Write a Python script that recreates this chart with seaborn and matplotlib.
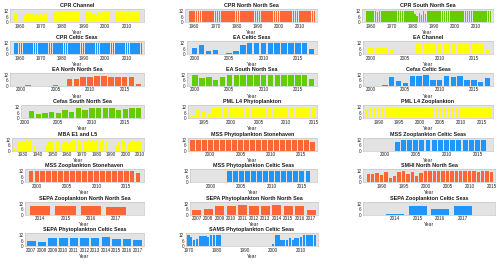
import numpy as np
import pandas as pd
import matplotlib
matplotlib.use("Agg")
import matplotlib.pyplot as plt
import seaborn as sns

# ==========================================
# 1. DATA (months sampled per year)
# ==========================================

cpr_years = list(range(1958, 2018))
cpr_channel = [10, 9,
               8, 9, 8, 10, 10, 9, 9, 8, 9, 8,
               9, 8, 10, 10, 11, 11, 12, 11, 12, 12,
               12, 12, 11, 12, 12, 11, 11, 12, 12, 11,
               12, 11, 11, 11, 10, 9, 8, 11, 10, 11,
               11, 11, 11, 11, 11, 12, 11, 11, 12, 11,
               11, 12, 11, 11, 11, 11, 11, 12]
cpr_nns = [12, 12,
           12, 12, 12, 12, 12, 12, 12, 12, 12, 12,
           12, 12, 12, 12, 12, 12, 12, 12, 12, 12,
           12, 12, 12, 12, 12, 12, 12, 12, 12, 12,
           12, 12, 12, 12, 12, 12, 12, 12, 12, 12,
           12, 12, 12, 12, 12, 12, 12, 12, 12, 12,
           12, 12, 12, 12, 12, 12, 12, 12]
cpr_sns = [12, 12,
           12, 12, 12, 11, 12, 12, 12, 12, 12, 12,
           12, 12, 12, 12, 12, 12, 12, 12, 12, 12,
           12, 9, 7, 10, 8, 12, 9, 12, 12, 12,
           12, 12, 12, 12, 12, 12, 12, 12, 12, 12,
           12, 12, 12, 12, 12, 12, 12, 12, 12, 12,
           12, 12, 12, 12, 12, 12, 12, 12]
cpr_celtic = [12, 12,
              12, 12, 12, 12, 12, 12, 12, 12, 12, 12,
              12, 12, 12, 12, 12, 12, 12, 12, 12, 12,
              12, 12, 12, 12, 12, 12, 12, 12, 12, 12,
              12, 12, 12, 12, 12, 12, 12, 12, 12, 12,
              12, 12, 12, 12, 12, 12, 12, 12, 12, 12,
              12, 12, 12, 12, 12, 12, 12, 12]

ea_years = list(range(2000, 2018))
ea_celtic = [7, 10, 3, 5, 0, 1, 4, 10, 12, 12, 12, 12, 12, 12, 12, 12, 12, 6]
ea_channel = [7, 7, 7, 5, 0, 1, 1, 12, 12, 12, 12, 12, 12, 12, 12, 12, 12, 5]
ea_nns = [0, 1, 0, 0, 0, 1, 0, 7, 7, 10, 10, 11, 11, 10, 10, 10, 10, 2]
ea_sns = [12, 8, 10, 6, 10, 12, 12, 12, 12, 12, 12, 12, 12, 12, 12, 12, 12, 7]

cefas_celtic_years = list(range(2000, 2018))
cefas_celtic = [0, 0, 1, 10, 5, 3, 11, 11, 12, 6, 6, 11, 9, 11, 6, 6, 4, 8]
cefas_sns_years = list(range(2001, 2018))
cefas_sns = [8, 4, 6, 7, 6, 9, 7, 11, 9, 11, 11, 11, 11, 9, 10, 11, 11]

pml_phyto_years = list(range(1993, 2016))
pml_phyto = [2, 10, 8, 5, 11, 11, 11, 11, 11, 11, 11, 11,
             11, 11, 11, 11, 11, 11, 11, 11, 11, 11, 11]
pml_zoo_years = list(range(1987, 2018))
pml_zoo = [9, 11, 11, 11, 11, 11, 11, 11, 11, 11, 11,
           11, 11, 11, 11, 11, 11, 11, 11, 11, 11,
           11, 11, 11, 11, 11, 11, 11, 11, 11, 11]

mba_years = list(range(1924, 2012))
mba = [3, 8, 10, 11, 9, 12,
       10, 11, 12, 9, 11, 12, 10, 8, 5, 0,
       0, 0, 0, 0, 0, 0, 6, 10, 11, 9,
       11, 12, 10, 11, 9, 6, 4, 7, 10, 11,
       9, 8, 10, 11, 12, 12, 9, 7, 12, 11,
       12, 12, 11, 10, 12, 12, 11, 12, 12, 11,
       12, 12, 11, 10, 12, 11, 9, 11, 0, 0,
       0, 0, 0, 0, 5, 10, 8, 11, 12, 9,
       0, 0, 8, 11, 10, 12, 9, 11, 12, 10,
       11, 12]

mss_zoo_sh_years = list(range(1999, 2018))
mss_zoo_sh = [12, 12, 12, 12, 12, 12, 12, 12, 12, 12,
              12, 12, 12, 12, 12, 12, 12, 12, 10]
mss_phyto_sh_years = list(range(1997, 2018))
mss_phyto_sh = [12, 12, 12, 12, 12, 12, 12, 12, 12, 12, 12,
                12, 12, 12, 12, 12, 12, 12, 12, 12, 10]
mss_zoo_cs_years = list(range(2002, 2017))
mss_zoo_cs = [9, 12, 12, 12, 12, 12, 12, 12, 12, 12, 12, 12, 12, 12, 12]
mss_phyto_cs_years = list(range(2003, 2017))
mss_phyto_cs = [12, 12, 12, 12, 12, 12, 12, 12, 12, 12, 12, 12, 12, 12]

smhi_years = list(range(1987, 2016))
smhi = [9, 9, 10, 8, 11, 5, 7, 11, 12, 9, 11, 7, 10,
        12, 12, 12, 12, 12, 12, 12, 12, 12, 12, 12, 12, 11, 12, 12, 11]

sepa_zoo_years = [2014, 2015, 2016, 2017]
sepa_zoo_nns = [10, 9, 9, 8]
sepa_zoo_cs = [1, 10, 6, 10]
sepa_phyto_years = list(range(2007, 2018))
sepa_phyto_nns = [5, 6, 10, 9, 11, 10, 10, 11, 9, 10, 5]
sepa_phyto_cs = [6, 5, 9, 9, 9, 9, 9, 10, 8, 8, 7]

sams_years = list(range(1970, 2016))
sams = [12, 10, 7, 8, 11, 11, 11, 10, 12, 12, 12, 12,
        0, 0, 0, 0, 0, 0, 0, 0, 0, 0, 0, 0, 0, 0, 0, 0, 0, 0,
        2, 12, 12, 7, 7, 7, 9, 7, 9, 9, 10, 12, 12, 12, 12, 12]

YELLOW = "#ffff00"
BLUE = "#1e96ff"
ORANGE = "#ff6633"
GREEN = "#66cc00"

# ==========================================
# 2. LAYOUT (pixel boxes: left, top, right) + axis settings
# ==========================================

dec = [1960, 1970, 1980, 1990, 2000, 2010]
five = [2000, 2005, 2010, 2015]
panels = [
    # column 1
    ("CPR Channel", cpr_years, cpr_channel, YELLOW, (10, 9, 144), (1955.6, 2018.2), dec),
    ("CPR Celtic Seas", cpr_years, cpr_celtic, BLUE, (10, 41, 144), (1955.6, 2018.2), dec),
    ("EA North North Sea", ea_years, ea_nns, ORANGE, (10, 72.7, 144), (1998.4, 2017.8), five),
    ("Cefas South North Sea", cefas_sns_years, cefas_sns, GREEN, (21, 105, 144), (1999.4, 2017.8), five),
    ("MBA E1 and L5", mba_years, mba, YELLOW, (12, 137.7, 144), (1922.5, 2012.5),
     [1930, 1940, 1950, 1960, 1970, 1980, 1990, 2000, 2010]),
    ("MSS Zooplankton Stonehaven", mss_zoo_sh_years, mss_zoo_sh, ORANGE, (25, 169, 144), (1998, 2018), five),
    ("SEPA Zooplankton North North Sea", sepa_zoo_years, sepa_zoo_nns, ORANGE, (25, 201.7, 144),
     (2013.4, 2018.1), [2014, 2015, 2016, 2017]),
    ("SEPA Phytoplankton Celtic Seas", sepa_phyto_years, sepa_phyto_cs, BLUE, (25, 233, 144),
     (2006.4, 2017.6), list(range(2007, 2018))),
    # column 2
    ("CPR North North Sea", cpr_years, cpr_nns, ORANGE, (185, 9, 317), (1955.6, 2018.2), dec),
    ("EA Celtic Seas", ea_years, ea_celtic, BLUE, (186.5, 41, 317), (1998.8, 2017.8), five),
    ("EA South North Sea", ea_years, ea_sns, GREEN, (187, 72.7, 317), (1998.8, 2017.8), five),
    ("PML L4 Phytoplankton", pml_phyto_years, pml_phyto, YELLOW, (188, 105, 317), (1992.2, 2015.6),
     [1995, 2000, 2005, 2010, 2015]),
    ("MSS Phytoplankton Stonehaven", mss_phyto_sh_years, mss_phyto_sh, ORANGE, (188, 137.7, 317),
     (1996.3, 2017.7), five),
    ("MSS Phytoplankton Celtic Seas", mss_phyto_cs_years, mss_phyto_cs, BLUE, (190, 169, 317),
     (1996.5, 2017.5), five),
    ("SEPA Phytoplankton North North Sea", sepa_phyto_years, sepa_phyto_nns, ORANGE, (190, 201.7, 318),
     (2006.4, 2017.6), list(range(2007, 2018))),
    ("SAMS Phytoplankton Celtic Seas", sams_years, sams, BLUE, (185.7, 233, 318), (1969, 2016),
     [1970, 1980, 1990, 2000, 2010]),
    # column 3
    ("CPR South North Sea", cpr_years, cpr_sns, GREEN, (362, 9, 493), (1955.6, 2018.2), dec),
    ("EA Channel", ea_years, ea_channel, YELLOW, (363, 41, 493), (1998.8, 2017.8), five),
    ("Cefas Celtic Seas", cefas_celtic_years, cefas_celtic, BLUE, (363, 72.7, 493), (1998.8, 2017.8), five),
    ("PML L4 Zooplankton", pml_zoo_years, pml_zoo, YELLOW, (363, 105, 493), (1986.2, 2017.8),
     [1990, 1995, 2000, 2005, 2010, 2015]),
    ("MSS Zooplankton Celtic Seas", mss_zoo_cs_years, mss_zoo_cs, BLUE, (363, 137.7, 493),
     (1996.5, 2017.5), five),
    ("SMHI North North Sea", smhi_years, smhi, ORANGE, (363, 169, 495), (1985.8, 2015.8),
     [1990, 1995, 2000, 2005, 2010, 2015]),
    ("SEPA Zooplankton Celtic Seas", sepa_zoo_years, sepa_zoo_cs, BLUE, (363, 201.7, 495),
     (2012.6, 2018.4), [2014, 2015, 2016, 2017]),
]

# ==========================================
# 3. PLOT
# ==========================================

W, H = 500, 263
AX_H = 13.3

sns.set_theme(style="white")
plt.rcParams['font.family'] = ['Liberation Sans', 'DejaVu Sans']

fig = plt.figure(figsize=(W / 100, H / 100), dpi=100)

for title, years, vals, color, (l, t, r), xlim, xticks in panels:
    ax = fig.add_axes([l / W, 1 - (t + AX_H) / H, (r - l) / W, AX_H / H])
    df = pd.DataFrame({"Year": years, "Months": vals})
    sns.barplot(data=df, x="Year", y="Months", native_scale=True, color=color,
                saturation=1, width=0.8, linewidth=0, errorbar=None, ax=ax)
    ax.set_facecolor("#e3e3e3")
    ax.set_xlim(*xlim)
    ax.set_ylim(0, 14)
    ax.set_yticks([0, 6, 12])
    ax.set_xticks(xticks)
    ax.set_xticklabels([str(x) for x in xticks])
    ax.tick_params(axis="both", labelsize=3.3, length=1.2, width=0.3, pad=1,
                   direction="in", colors="#262626")
    for sp in ax.spines.values():
        sp.set_color("#c8c8c8")
        sp.set_linewidth(0.5)
    ax.set_title(title, fontsize=3.9, fontweight="bold", pad=1.5, color="#1a1a1a")
    ax.set_xlabel("Year", fontsize=3.6, labelpad=0.8, color="#262626")
    ax.set_ylabel("")

fig.savefig("out.png", dpi=100)
